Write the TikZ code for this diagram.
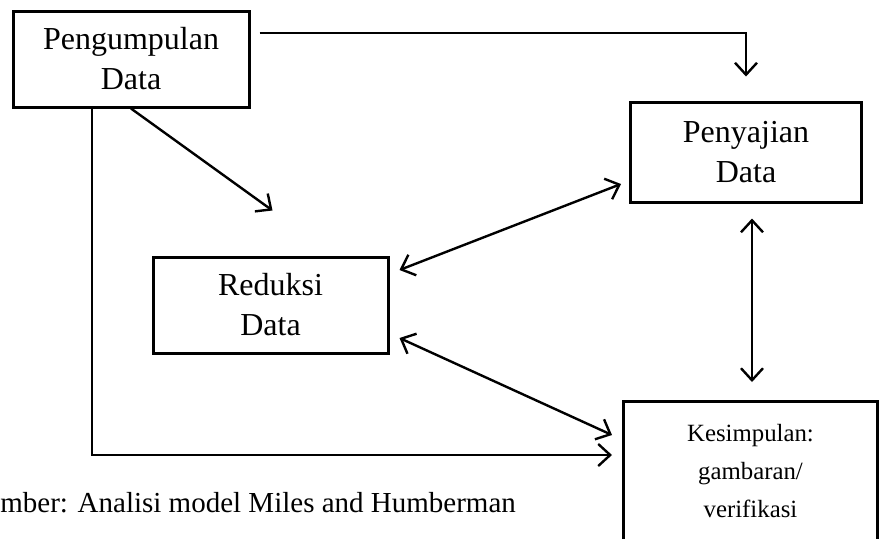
\documentclass[tikz,border=0pt]{standalone}
\usepackage{fontspec}
\setmainfont{Liberation Serif}
\usepackage{tikz}
\usetikzlibrary{arrows.meta,positioning,calc}
\newcommand{\boxfont}{\fontsize{16}{20}\selectfont}
\newcommand{\smallboxfont}{\fontsize{12.4}{19}\selectfont}
\newcommand{\capfont}{\fontsize{14.5}{17}\selectfont}
\tikzset{
  stagebox/.style={draw=black,line width=1.5pt,align=center,inner sep=0pt,
                   font=\boxfont},
  flowarr/.style={-{Straight Barb[length=6pt,width=11pt]},line width=1.2pt},
  twoarr/.style={{Straight Barb[length=6pt,width=11pt]}-{Straight Barb[length=6pt,width=11pt]},
                 line width=1.2pt}
}
\begin{document}
\begin{tikzpicture}[x=0.5pt,y=0.5pt]
    \useasboundingbox (0,0) rectangle (885,-538);
    \clip (0,0) rectangle (885,-538);
    \fill[white] (0,0) rectangle (885,-538);
    \node[stagebox,minimum width=118pt,minimum height=48pt] (pengumpulan)
      at (131,-59) {Pengumpulan\\Data};
    \node[stagebox,minimum width=115.5pt,minimum height=50pt] (penyajian)
      at (746,-152) {Penyajian\\Data};
    \node[stagebox,minimum width=117.5pt,minimum height=48pt] (reduksi)
      at (270.5,-305) {Reduksi\\Data};
    \node[stagebox,font=\smallboxfont,anchor=north west,text width=127pt,
          inner ysep=11.5pt,text depth=40pt] (kes)
      at (622,-400) {Kesimpulan:\\gambaran/\\verifikasi};
    \node[font=\capfont,anchor=base west,inner sep=0pt] (sumber)
      at (0,-512) {mber: Analisi model Miles and Humberman};

    \draw[flowarr] ($(pengumpulan.east)+(9,26)$) -| ($(penyajian.north)+(0,24)$);
    \draw[flowarr] (pengumpulan.south) -- ($(reduksi.north)+(2,45)$);
    \draw[flowarr] ($(pengumpulan.south)+(-39,0)$) |- ($(kes.north west)+(-10,-55)$);
    \draw[twoarr] ($(reduksi.east)+(10,35)$) -- ($(penyajian.west)+(-8,-32)$);
    \draw[twoarr] ($(reduksi.east)+(10,-33)$) -- ($(kes.north west)+(-10,-35)$);
    \draw[twoarr] ($(penyajian.south)+(6,-15)$) -- ($(kes.north west)+(130,18)$);
  \end{tikzpicture}
\end{document}
